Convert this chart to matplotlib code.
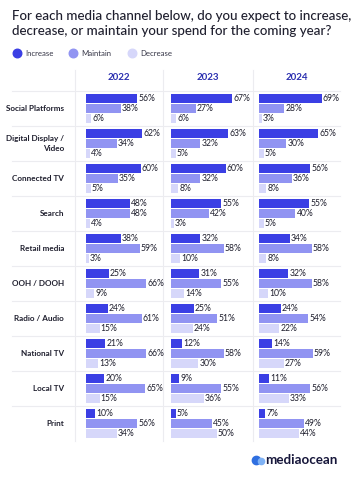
import matplotlib.pyplot as plt
import numpy as np

channels = ["Social Platforms", "Digital Display /\nVideo", "Connected TV", "Search",
            "Retail media", "OOH / DOOH", "Radio / Audio", "National TV", "Local TV", "Print"]
years = ["2022", "2023", "2024"]

increase = {
    "2022": [56, 62, 60, 48, 38, 25, 24, 21, 20, 10],
    "2023": [67, 63, 60, 55, 32, 31, 25, 12, 9, 5],
    "2024": [69, 65, 56, 55, 34, 32, 24, 14, 11, 7],
}
maintain = {
    "2022": [38, 34, 35, 48, 59, 66, 61, 66, 65, 56],
    "2023": [27, 32, 32, 42, 58, 55, 51, 58, 55, 45],
    "2024": [28, 30, 36, 40, 58, 58, 54, 59, 56, 49],
}
decrease = {
    "2022": [6, 4, 5, 4, 3, 9, 15, 13, 15, 34],
    "2023": [6, 5, 8, 3, 10, 14, 24, 30, 36, 50],
    "2024": [3, 5, 8, 5, 8, 10, 22, 27, 33, 44],
}

c_inc = "#3b3fe4"
c_main = "#9194f2"
c_dec = "#d6d7fa"
txt = "#1f1f2e"
font = "Lato"

W, H = 352, 480
fig = plt.figure(figsize=(W / 100, H / 100), dpi=100)
plt.rcParams['font.family'] = [font, 'DejaVu Sans']

# background axes in pixel coordinates
bg = fig.add_axes([0, 0, 1, 1])
bg.set_xlim(0, W)
bg.set_ylim(H, 0)
bg.axis("off")

bg.text(12, 10, "For each media channel below, do you expect to increase,\ndecrease, or maintain your spend for the coming year?",
        fontsize=9.6, fontweight="medium", color=txt, va="top", ha="left", linespacing=1.3)

# legend
for x, lab, c in [(17, "Increase", c_inc), (73, "Maintain", c_main), (132, "Decrease", c_dec)]:
    bg.scatter([x], [53], s=38, color=c, zorder=3)
    bg.text(x + 8, 53, lab, fontsize=5.6, color="#333344", va="center", ha="left")

top, row_h = 91, 35
n = len(channels)
col_left = [75, 163, 253]
col_right = [163, 253, 340]

# grid separators
for i in range(n):
    y = top + i * row_h
    bg.plot([12, 340], [y, y], color="#ececf0", lw=0.8, zorder=0)
for x in col_left:
    bg.plot([x, x], [70, top + n * row_h], color="#ececf0", lw=0.8, zorder=0)

for i, ch in enumerate(channels):
    bg.text(64, top + (i + 0.5) * row_h, ch, fontsize=5.9, fontweight="bold", color=txt,
            ha="right", va="center", linespacing=1.6)

bar_left = [86, 171, 259]
bar_w = 80
scale = 0.91  # px per percent
offs = [0.22, 0.5, 0.78]
bh = 0.27

for k, yr in enumerate(years):
    bg.text((col_left[k] + col_right[k]) / 2, 78, yr, fontsize=7, fontweight="bold",
            color="#2b2fb0", ha="center", va="center")
    ax = fig.add_axes([bar_left[k] / W, 1 - (top + n * row_h) / H, bar_w / W, n * row_h / H])
    ax.set_xlim(0, bar_w / scale)
    ax.set_ylim(n, 0)
    ax.axis("off")
    pos = np.arange(n)
    for vals, off, c in [(increase[yr], offs[0], c_inc), (maintain[yr], offs[1], c_main),
                         (decrease[yr], offs[2], c_dec)]:
        ax.barh(pos + off, vals, height=bh, color=c, left=0)
        for p, v in zip(pos, vals):
            ax.text(v + 1.2, p + off, f"{v}%", fontsize=6.2, color=txt, va="center", ha="left")

# logo
bg.scatter([256], [460], s=36, color="#2f6fe0", zorder=3)
bg.scatter([260.5], [461], s=20, color="#7fb2f5", zorder=4)
bg.text(265, 460, "mediaocean", fontsize=9.6, fontweight="bold", color="#16163a",
        va="center", ha="left")

fig.savefig("out.png", dpi=100)
